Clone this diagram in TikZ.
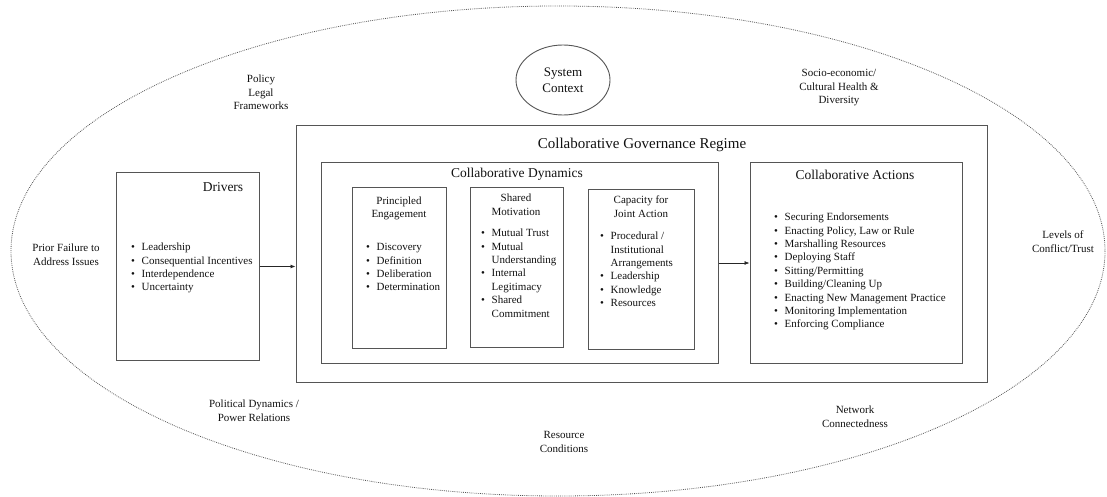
\documentclass[tikz,border=0pt]{standalone}
\usepackage{fontspec}
\setmainfont{Liberation Serif}
\usetikzlibrary{arrows.meta,shapes.geometric}
\newcommand{\bul}{\makebox[10.5pt][l]{\textbullet}}
\newcommand{\nob}{\makebox[10.5pt][l]{}}
\newcommand{\smf}{\fontsize{11}{13.4}\selectfont}
\definecolor{lc}{HTML}{555555}
\definecolor{tc}{HTML}{111111}
\begin{document}
\begin{tikzpicture}[x=1pt,y=-1pt,
  box/.style={draw=lc, line width=1pt, rectangle, inner sep=0pt},
  lbl/.style={align=center, inner sep=0pt, text=tc, font=\smf},
  lst/.style={align=left, inner sep=0pt, anchor=north west, text=tc, font=\smf},
  ttl/.style={inner sep=0pt, text=tc},
  arr/.style={draw=black!85, line width=0.7pt, -{Latex[length=5pt,width=4pt]}}
]
\useasboundingbox (0,0) rectangle (1107,497);
% outer dotted ellipse
\draw[lc, line width=0.8pt, dash pattern=on 0.8pt off 1.1pt] (558,251) ellipse [x radius=547, y radius=245];

% system context
\node[draw=lc, line width=0.9pt, ellipse, minimum width=94pt, minimum height=70pt, inner sep=0pt] (sys) at (563,80) {};
\node[lbl, font=\fontsize{13}{16}\selectfont] (systxt) at (563,81) {\strut System\\\strut Context};

% boxes
\node[box, minimum width=143pt, minimum height=187pt] (drivers) at (187.5,266.5) {};
\node[box, minimum width=691pt, minimum height=256pt] (cgr) at (641.5,254) {};
\node[box, minimum width=397pt, minimum height=200pt] (cd) at (519.5,263) {};
\node[box, minimum width=94pt, minimum height=161pt] (pe) at (399,267.5) {};
\node[box, minimum width=93pt, minimum height=160pt] (sm) at (516.5,267) {};
\node[box, minimum width=106pt, minimum height=160pt] (cap) at (641,269) {};
\node[box, minimum width=212pt, minimum height=200pt] (ca) at (856,263) {};

% titles
\node[ttl, font=\fontsize{13.5}{16}\selectfont] (drvttl) at (223,187.5) {Drivers};
\node[ttl, font=\fontsize{15}{18}\selectfont] (cgrttl) at (642,144.5) {Collaborative Governance Regime};
\node[ttl, font=\fontsize{13.5}{16}\selectfont] (cdttl) at (517,174.5) {Collaborative Dynamics};
\node[ttl, font=\fontsize{13.5}{16}\selectfont] (cattl) at (855,174.5) {Collaborative Actions};
\node[lbl] (pettl) at (399,208.5) {\strut Principled\\\strut Engagement};
\node[lbl] (smttl) at (516,206) {\strut Shared\\\strut Motivation};
\node[lbl] (capttl) at (641,208) {\strut Capacity for\\\strut Joint Action};

% lists
\node[lst] (drvlist) at (131,241.2) {\strut\bul Leadership\\\strut\bul Consequential Incentives\\\strut\bul Interdependence\\\strut\bul Uncertainty};
\node[lst] (pelist) at (366,241.2) {\strut\bul Discovery\\\strut\bul Definition\\\strut\bul Deliberation\\\strut\bul Determination};
\node[lst] (smlist) at (481,227.2) {\strut\bul Mutual Trust\\\strut\bul Mutual\\\strut\nob Understanding\\\strut\bul Internal\\\strut\nob Legitimacy\\\strut\bul Shared\\\strut\nob Commitment};
\node[lst] (caplist) at (600,230.2) {\strut\bul Procedural /\\\strut\nob Institutional\\\strut\nob Arrangements\\\strut\bul Leadership\\\strut\bul Knowledge\\\strut\bul Resources};
\node[lst] (calist) at (774,211.2) {\strut\bul Securing Endorsements\\\strut\bul Enacting Policy, Law or Rule\\\strut\bul Marshalling Resources\\\strut\bul Deploying Staff\\\strut\bul Sitting/Permitting\\\strut\bul Building/Cleaning Up\\\strut\bul Enacting New Management Practice\\\strut\bul Monitoring Implementation\\\strut\bul Enforcing Compliance};

% context labels
\node[lbl] (policy) at (261,93.5) {\strut Policy\\\strut Legal\\\strut Frameworks};
\node[lbl] (socio) at (839,87.5) {\strut Socio-economic/\\\strut Cultural Health \&\\\strut Diversity};
\node[lbl] (prior) at (66,256) {\strut Prior Failure to\\\strut Address Issues};
\node[lbl] (levels) at (1063,243) {\strut Levels of\\\strut Conflict/Trust};
\node[lbl] (political) at (254,412) {\strut Political Dynamics /\\\strut Power Relations};
\node[lbl] (resource) at (564,443) {\strut Resource\\\strut Conditions};
\node[lbl] (network) at (855,418) {\strut Network\\\strut Connectedness};

% connectors
\draw[arr] (drivers.east) -- (drivers.east -| cgr.west);
\draw[arr] (cd.east) -- (ca.west);
\end{tikzpicture}
\end{document}
